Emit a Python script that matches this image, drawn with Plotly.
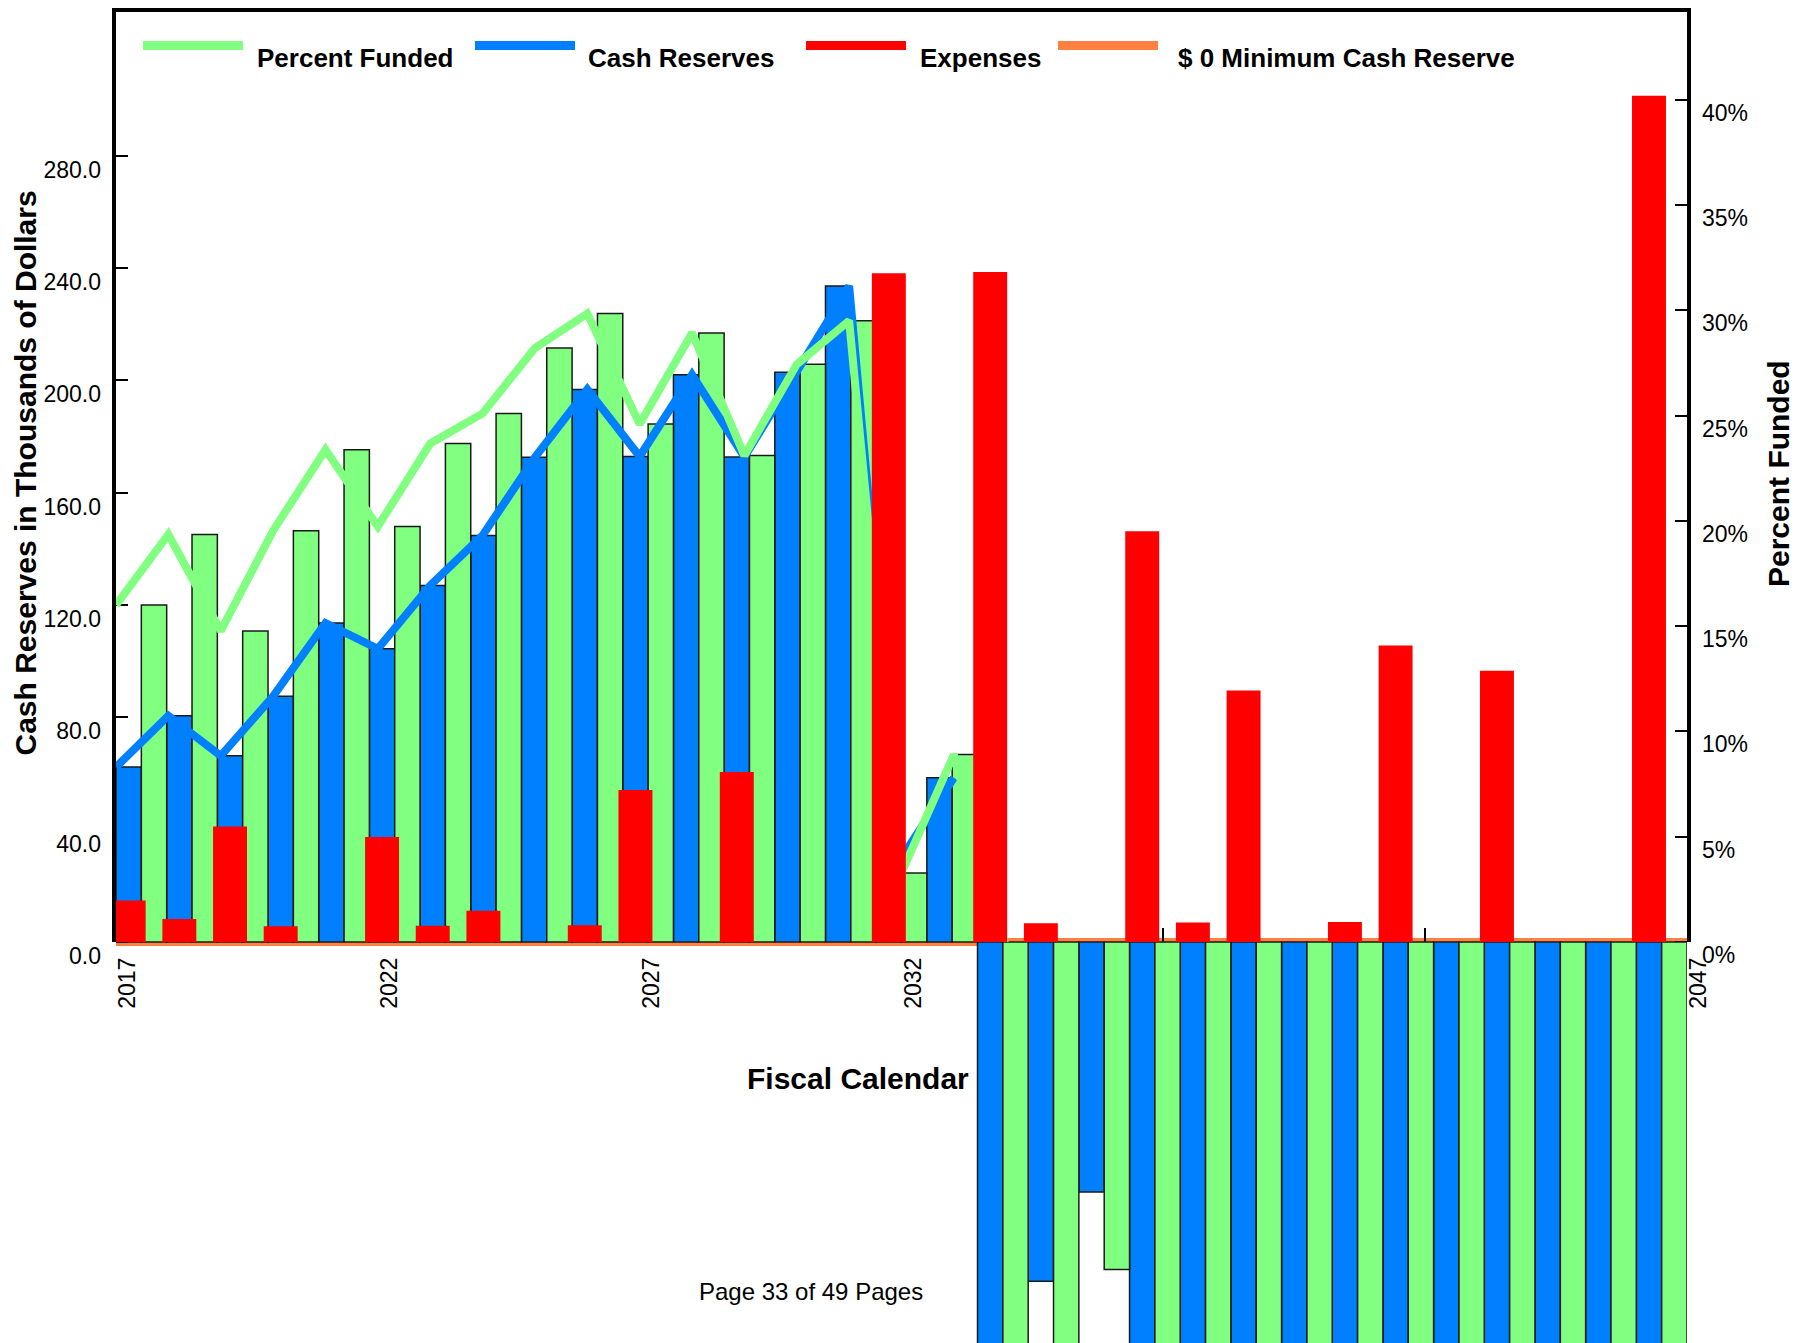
import plotly.graph_objects as go

# ---- data ----
years = list(range(2017, 2048))

# cash reserves, thousands of dollars (left axis)
cash_reserves = [62.3, 80.6, 66.3, 87.5, 113.6, 104.4, 127.0, 144.8, 172.6, 196.8,
                 172.9, 202.0, 172.7, 202.9, 233.6, 30.0, 58.5, -185.0, -120.8, -89.0,
                 -175.0, -190.0, -200.0, -210.0, -215.0, -225.0, -230.0, -240.0, -245.0,
                 -255.0, -260.0]
# the reserve line stops at 2033 (nothing of it shows below zero)
cash_reserves_line = cash_reserves[:17] + [None] + cash_reserves[18:]

# percent funded, % (right axis) - bars
percent_funded = [16.0, 19.35, 14.77, 19.53, 23.37, 19.73, 23.67, 25.1, 28.2, 29.84,
                  24.6, 28.92, 23.1, 27.43, 29.5, 3.28, 8.9, -24.0, -22.0, -15.55,
                  -23.0, -25.0, -26.0, -27.0, -28.0, -29.0, -30.0, -31.0, -32.0,
                  -33.0, -34.0]
# the line dips only just below zero in 2034
percent_funded_2034_line = -0.3
percent_funded_line = percent_funded[:17] + [percent_funded_2034_line] + percent_funded[18:]

# expenses, thousands of dollars (left axis)
expenses = [14.8, 8.2, 41.1, 5.6, 0, 37.4, 5.8, 11.1, 0, 6.0,
            54.1, 0, 60.5, 0, 0, 238.2, 0, 238.6, 6.7, 0,
            146.3, 6.9, 89.6, 0, 7.1, 105.6, 0, 96.6, 0, 0, 301.4]

min_reserve = [0.0] * len(years)

left_ticks = [0, 40, 80, 120, 160, 200, 240, 280]
right_ticks = [0, 5, 10, 15, 20, 25, 30, 35, 40]
right_labels = [f"{v}%" for v in right_ticks]

# ---- page geometry (screen pixels, page body has an 8px margin) ----
PAGE = 8
SCR_W, SCR_H = 1807, 1343
W, H = SCR_W - 2 * PAGE, SCR_H - PAGE
L, R, T, B = 116 - PAGE, 1687 - PAGE, 0, SCR_H - PAGE
ZERO_Y = 942 - PAGE
UNIT_PX = 2.808
PCT_PER_UNIT = 7.5

y_top = (ZERO_Y - T) / UNIT_PX
y_bot = -(B - ZERO_Y) / UNIT_PX
zero_frac = (B - ZERO_Y) / (B - T)
full_range = [y_bot, y_top]
pct_range = [y_bot / PCT_PER_UNIT, y_top / PCT_PER_UNIT]


def px(x):
    # screen x -> paper
    return (x - PAGE - L) / (R - L)


def py(y):
    # screen y -> paper
    return (B - (y - PAGE)) / (B - T)


FONT = "Liberation Sans, Arial, sans-serif"

GREEN = "#80FF80"
BLUE = "#0080FF"
RED = "#FF0000"
ORANGE = "#FF8040"

fig = go.Figure()

# minimum reserve line (bottom layer, with the visible axes)
fig.add_trace(go.Scatter(x=years, y=min_reserve, mode="lines", xaxis="x", yaxis="y",
                         line=dict(color=ORANGE, width=8), name="$ 0 Minimum Cash Reserve"))
# carries the right hand percent axis
fig.add_trace(go.Scatter(x=years, y=percent_funded_line, mode="lines", xaxis="x", yaxis="y2",
                         line=dict(color=GREEN, width=0), opacity=0, hoverinfo="skip"))

# cash reserve / percent funded bars
fig.add_trace(go.Bar(x=years, y=cash_reserves, xaxis="x2", yaxis="y3", offset=0, width=0.5,
                     marker=dict(color=BLUE, line=dict(color="#1a1a1a", width=1.5)),
                     name="Cash Reserves"))
fig.add_trace(go.Bar(x=years, y=percent_funded, xaxis="x2", yaxis="y4", offset=0.5, width=0.5,
                     marker=dict(color=GREEN, line=dict(color="#1a1a1a", width=1.5)),
                     name="Percent Funded"))

# lines (clipped at zero)
fig.add_trace(go.Scatter(x=years, y=cash_reserves_line, mode="lines", xaxis="x3", yaxis="y5",
                         line=dict(color=BLUE, width=8), name="Cash Reserves"))
fig.add_trace(go.Scatter(x=years, y=percent_funded_line, mode="lines", xaxis="x3", yaxis="y6",
                         line=dict(color=GREEN, width=8), name="Percent Funded"))

# expenses on top
fig.add_trace(go.Bar(x=years, y=expenses, xaxis="x4", yaxis="y7", offset=-0.085, width=0.67,
                     marker=dict(color=RED, line=dict(width=0)), name="Expenses"))

hidden = dict(visible=False, showgrid=False, zeroline=False)

fig.update_layout(
    width=W, height=H,
    margin=dict(l=L, r=W - R, t=T, b=H - B, pad=0),
    paper_bgcolor="white", plot_bgcolor="rgba(0,0,0,0)",
    barmode="overlay", showlegend=False, hovermode=False,
    font=dict(family=FONT, color="black"),
    xaxis=dict(domain=[0, 1], range=[2017, 2047], anchor="free", position=zero_frac,
               tick0=2017, dtick=5, ticks="inside", ticklen=14, tickwidth=1.5, tickcolor="black",
               tickangle=-90, tickfont=dict(size=23, family=FONT), ticklabelshift=12,
               ticklabelstandoff=10, showline=False, showgrid=False, zeroline=False),
    yaxis=dict(domain=[0, 1], range=full_range, anchor="x", tickvals=left_ticks,
               tickformat=".1f", ticks="inside", ticklen=12, tickwidth=1.5, tickcolor="black",
               tickfont=dict(size=23, family=FONT), ticklabelshift=14, ticklabelstandoff=14,
               showline=False, showgrid=False, zeroline=False),
    yaxis2=dict(overlaying="y", side="right", anchor="x", range=pct_range,
                tickmode="array", tickvals=right_ticks, ticktext=right_labels,
                ticks="inside", ticklen=12, tickwidth=1.5, tickcolor="black",
                tickfont=dict(size=23, family=FONT), ticklabelshift=13, ticklabelstandoff=14,
                showline=False, showgrid=False, zeroline=False),
    xaxis2=dict(domain=[0, 1], range=[2017, 2048], anchor="y3", **hidden),
    yaxis3=dict(domain=[0, 1], range=full_range, anchor="x2", **hidden),
    yaxis4=dict(overlaying="y3", anchor="x2", range=pct_range, **hidden),
    xaxis3=dict(domain=[0, 1], range=[2017, 2047], anchor="y5", **hidden),
    yaxis5=dict(domain=[zero_frac, 1], range=[0, y_top], anchor="x3", showline=True, mirror=True,
                linecolor="black", linewidth=4, ticks="", showticklabels=False,
                showgrid=False, zeroline=False),
    yaxis6=dict(overlaying="y5", anchor="x3", range=[0, y_top / PCT_PER_UNIT], **hidden),
    xaxis4=dict(domain=[0, 1], range=[2017, 2048], anchor="y7", **hidden),
    yaxis7=dict(domain=[0, 1], range=full_range, anchor="x4", **hidden),
)

# top edge of the frame
fig.add_shape(type="line", xref="paper", yref="paper", x0=px(114), x1=px(1689),
              y0=py(PAGE + 2), y1=py(PAGE + 2), line=dict(color="black", width=4))

# legend drawn by hand (screen positions)
legend_items = [("Percent Funded", GREEN, 143, 255),
                ("Cash Reserves", BLUE, 475, 586),
                ("Expenses", RED, 806, 918),
                ("$ 0 Minimum Cash Reserve", ORANGE, 1058, 1176)]
for label, color, x0, tx in legend_items:
    fig.add_shape(type="line", xref="paper", yref="paper", x0=px(x0), x1=px(x0 + 100),
                  y0=py(45.5), y1=py(45.5), line=dict(color=color, width=9))
    fig.add_annotation(text=label, xref="paper", yref="paper", x=px(tx), y=py(58),
                       xanchor="left", yanchor="middle", showarrow=False,
                       font=dict(size=26, family=FONT, weight="bold", color="black"))

# titles
fig.add_annotation(text="Cash Reserves in Thousands of Dollars", xref="paper", yref="paper",
                   x=px(25.5), y=py(473), textangle=-90, showarrow=False,
                   xanchor="center", yanchor="middle",
                   font=dict(size=30, family=FONT, weight="bold", color="black"))
fig.add_annotation(text="Percent Funded", xref="paper", yref="paper",
                   x=px(1779), y=py(473), textangle=-90, showarrow=False,
                   xanchor="center", yanchor="middle",
                   font=dict(size=30, family=FONT, weight="bold", color="black"))
fig.add_annotation(text="Fiscal Calendar", xref="paper", yref="paper",
                   x=px(858), y=py(1078), showarrow=False, xanchor="center", yanchor="middle",
                   font=dict(size=30, family=FONT, weight="bold", color="black"))
fig.add_annotation(text="Page 33 of 49 Pages", xref="paper", yref="paper",
                   x=px(811), y=py(1291), showarrow=False, xanchor="center", yanchor="middle",
                   font=dict(size=24, family=FONT, color="black"))

fig.write_html("out.html")
